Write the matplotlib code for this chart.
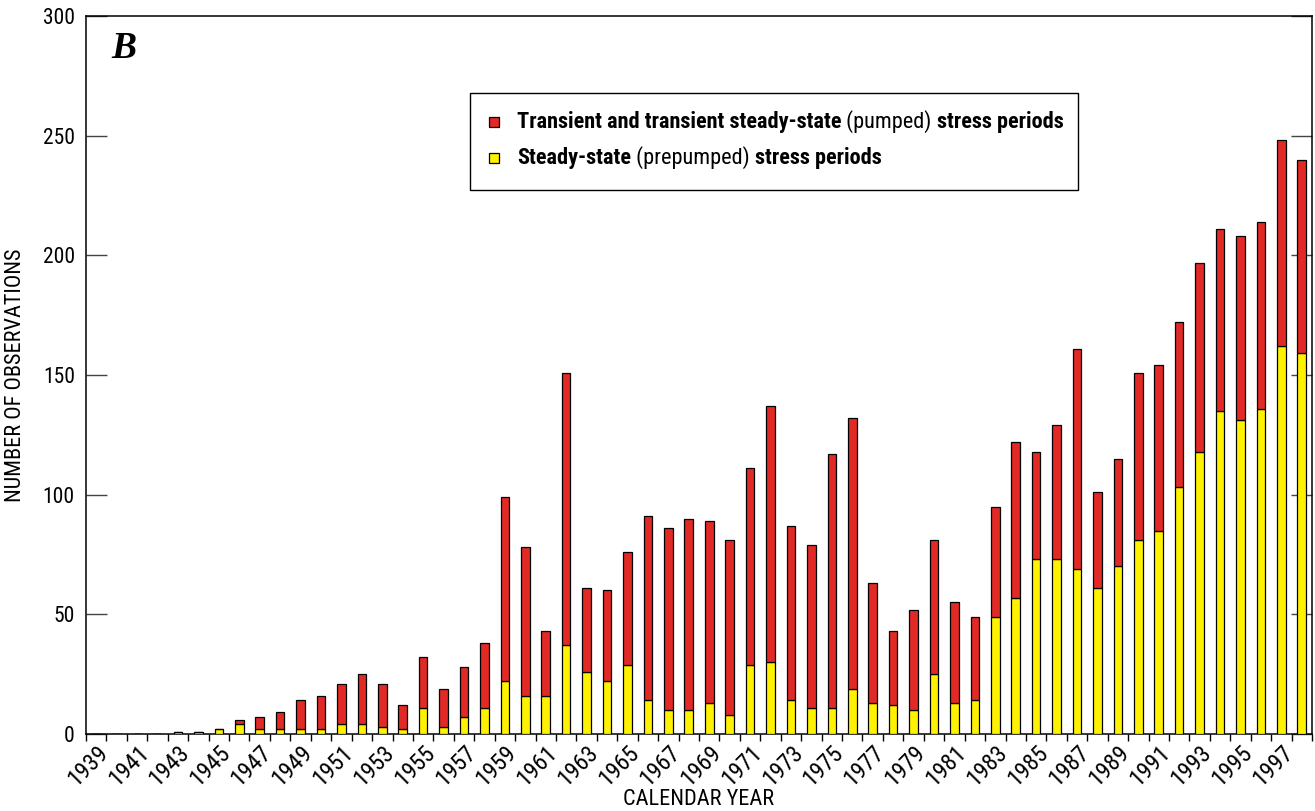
import numpy as np
import matplotlib
matplotlib.use("Agg")
import matplotlib.pyplot as plt
from matplotlib import font_manager
from matplotlib.patches import Rectangle
from matplotlib.ticker import FixedLocator, NullFormatter

# ---------------------------------------------------------------------------
# Observation counts per calendar year
# ---------------------------------------------------------------------------

years = np.arange(1939, 1999)

total_obs = [
    0, 0, 0, 0, 1, 1, 2, 6, 7, 9,
    14, 16, 21, 25, 21, 12, 32, 19, 28, 38,
    99, 78, 43, 151, 61, 60, 76, 91, 86, 90,
    89, 81, 111, 137, 87, 79, 117, 132, 63, 43,
    52, 81, 55, 49, 95, 122, 118, 129, 161, 101,
    115, 151, 154, 172, 197, 211, 208, 214, 248, 240,
]

steady_obs = [
    0, 0, 0, 0, 1, 1, 2, 4, 2, 2,
    2, 2, 4, 4, 3, 2, 11, 3, 7, 11,
    22, 16, 16, 37, 26, 22, 29, 14, 10, 10,
    13, 8, 29, 30, 14, 11, 11, 19, 13, 12,
    10, 25, 13, 14, 49, 57, 73, 73, 69, 61,
    70, 81, 85, 103, 118, 135, 131, 136, 162, 159,
]

transient_obs = np.array(total_obs) - np.array(steady_obs)

RED = "#e12a26"
YELLOW = "#fff200"

# pick a narrow sans face if one is around
installed = {f.name for f in font_manager.fontManager.ttflist}
narrow = [n for n in ("Liberation Sans Narrow", "Roboto Condensed",
                      "DejaVu Sans Condensed", "Roboto") if n in installed]
plt.rcParams["font.family"] = narrow + ["DejaVu Sans"]
plt.rcParams["font.stretch"] = "condensed"

fig = plt.figure(figsize=(13.15, 8.11), dpi=100)
ax = fig.add_axes([86 / 1315, 1 - 734 / 811, 1226 / 1315, 718 / 811])

bar_w = 0.42
ax.bar(years, steady_obs, width=bar_w, color=YELLOW, edgecolor="black",
       linewidth=0.9, zorder=3)
ax.bar(years, transient_obs, bottom=steady_obs, width=bar_w, color=RED,
       edgecolor="black", linewidth=0.9, zorder=3)

ax.set_xlim(1938.5, 1998.5)
ax.set_ylim(0, 300)

# labels every other year, tick marks on the year boundaries
ax.xaxis.set_major_locator(FixedLocator(years[::2]))
ax.xaxis.set_minor_locator(FixedLocator(np.arange(1938.5, 1999.0, 1.0)))
ax.xaxis.set_minor_formatter(NullFormatter())
ax.set_xticklabels([str(y) for y in years[::2]], rotation=45, ha="right",
                   rotation_mode="anchor", fontsize=17)
ax.tick_params(axis="x", which="major", length=0, pad=5)
ax.tick_params(axis="x", which="minor", direction="out", length=5,
               width=1.0)

ax.set_yticks(np.arange(0, 301, 50))
ax.tick_params(axis="y", which="major", direction="in", length=15,
               width=1.0, color="#444444", labelsize=15.5, pad=8,
               right=True)

for side in ax.spines.values():
    side.set_linewidth(1.1)

ax.set_ylabel("NUMBER OF OBSERVATIONS", fontsize=16)
ax.yaxis.set_label_coords(-0.049, 0.5)
ax.set_xlabel("CALENDAR YEAR", fontsize=16)
ax.xaxis.set_label_coords(0.5, -0.077)

ax.text(0.021, 0.955, "B", transform=ax.transAxes, fontsize=27,
        fontweight="bold", fontstyle="italic", family="Liberation Serif",
        va="center", ha="left")

# ---------------------------------------------------------------------------
# Legend with mixed bold / regular wording
# ---------------------------------------------------------------------------

ax.add_patch(Rectangle((0.3132, 0.7577), 0.8091 - 0.3132, 0.8928 - 0.7577,
                       transform=ax.transAxes, facecolor="white",
                       edgecolor="black", linewidth=1.0, zorder=5))

legend_rows = [
    (0.8524, RED, [("Transient and transient steady-state", "bold"),
                   (" (pumped) ", "normal"),
                   ("stress periods", "bold")]),
    (0.8022, YELLOW, [("Steady-state", "bold"),
                      (" (prepumped) ", "normal"),
                      ("stress periods", "bold")]),
]

sq_w = 10 / 1226
sq_h = 10 / 718
for y_row, colour, pieces in legend_rows:
    ax.add_patch(Rectangle((0.3328 - sq_w / 2, y_row - sq_h / 2), sq_w, sq_h,
                           transform=ax.transAxes, facecolor=colour,
                           edgecolor="black", linewidth=0.9, zorder=6))
    prev = None
    for txt, weight in pieces:
        if prev is None:
            prev = ax.text(0.3515, y_row, txt, transform=ax.transAxes,
                           fontsize=16, fontweight=weight, va="center",
                           ha="left", zorder=7)
        else:
            prev = ax.annotate(txt, xy=(1, 0), xycoords=prev,
                               fontsize=16, fontweight=weight,
                               va="bottom", ha="left", zorder=7)

fig.savefig("out.png", dpi=100)
